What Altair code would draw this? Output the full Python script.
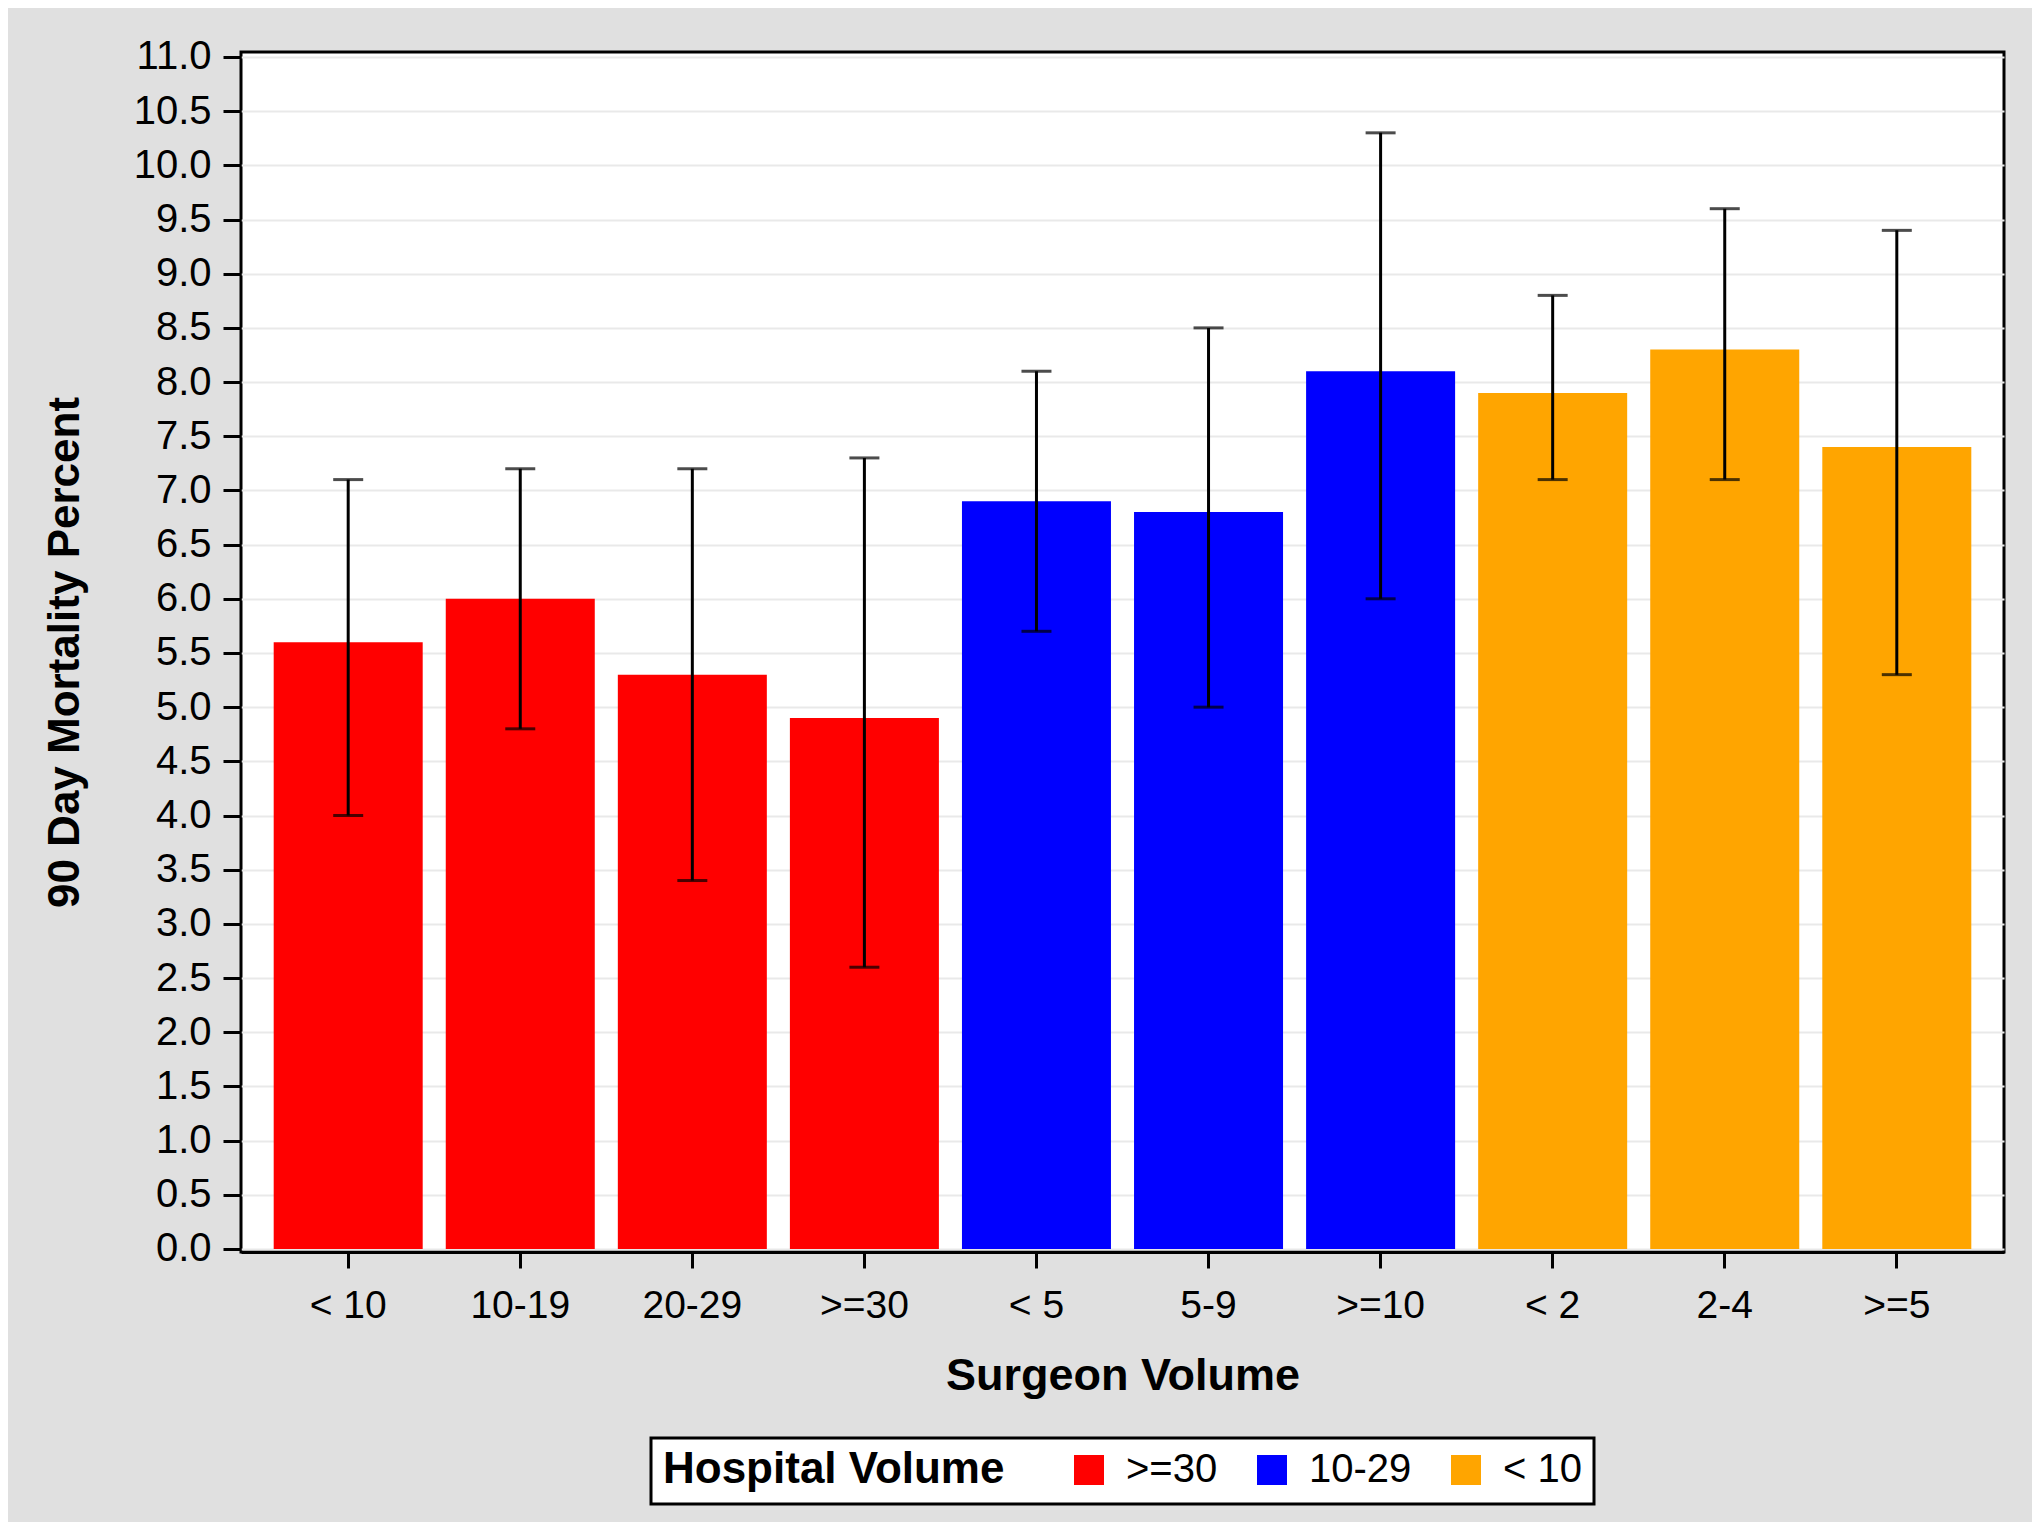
import altair as alt
import pandas as pd

surgeon = ["< 10", "10-19", "20-29", ">=30", "< 5", "5-9", ">=10", "< 2", "2-4", ">=5"]
hospital = [">=30", ">=30", ">=30", ">=30", "10-29", "10-29", "10-29", "< 10", "< 10", "< 10"]
mortality = [5.6, 6.0, 5.3, 4.9, 6.9, 6.8, 8.1, 7.9, 8.3, 7.4]
lower = [4.0, 4.8, 3.4, 2.6, 5.7, 5.0, 6.0, 7.1, 7.1, 5.3]
upper = [7.1, 7.2, 7.2, 7.3, 8.1, 8.5, 10.3, 8.8, 9.6, 9.4]
y_ticks = [0.0, 0.5, 1.0, 1.5, 2.0, 2.5, 3.0, 3.5, 4.0, 4.5, 5.0, 5.5, 6.0, 6.5,
           7.0, 7.5, 8.0, 8.5, 9.0, 9.5, 10.0, 10.5, 11.0]
hosp_order = [">=30", "10-29", "< 10"]
hosp_colors = ["#ff0000", "#0000ff", "#ffa500"]

df = pd.DataFrame({
    "Surgeon": surgeon,
    "Hospital": hospital,
    "Mortality": mortality,
    "Lower": lower,
    "Upper": upper,
})

FONT = "Liberation Sans"
YTITLE = "90 Day Mortality Percent"

x_enc = alt.X(
    "Surgeon:N",
    sort=surgeon,
    title="Surgeon Volume",
    scale=alt.Scale(paddingInner=0.134, paddingOuter=0.19),
    axis=alt.Axis(
        labelAngle=0, labelFontSize=39, labelColor="black", labelFont=FONT,
        tickSize=16, tickWidth=3, tickColor="black",
        domain=True, domainColor="black", domainWidth=3,
        grid=False, labelPadding=18,
        titleFontSize=45, titleFontWeight="bold", titleColor="black",
        titleFont=FONT, titlePadding=28,
    ),
)

y_scale = alt.Scale(domain=[-0.028, 11.046], nice=False, zero=False)
y_axis = alt.Axis(
    values=y_ticks, format=".1f", labelFontSize=40, labelColor="black",
    labelFont=FONT, tickSize=18, tickWidth=3, tickColor="black",
    domain=False, grid=True, gridColor="#e9e9e9", gridWidth=2,
    labelPadding=12, titleFontSize=44, titleFontWeight="bold",
    titleColor="black", titleFont=FONT, titlePadding=46,
)

base = alt.Chart(df)

bars = base.mark_bar().encode(
    x=x_enc,
    y=alt.Y("Mortality:Q", scale=y_scale, axis=y_axis, title=YTITLE),
    color=alt.Color(
        "Hospital:N",
        scale=alt.Scale(domain=hosp_order, range=hosp_colors),
        title="Hospital Volume",
        legend=alt.Legend(
            orient="none", legendX=410, legendY=1386,
            direction="horizontal", titleOrient="left",
            symbolType="square", symbolSize=900, symbolStrokeWidth=0,
            labelFontSize=40, labelFont=FONT, labelColor="black",
            titleFontSize=44, titleFont=FONT, titleFontWeight="bold",
            titleColor="black", titlePadding=64, labelOffset=17,
            titleLimit=1000, labelLimit=500,
            columnPadding=34, padding=12,
            strokeColor="black", fillColor="white",
        ),
    ),
)

rules = base.mark_rule(color="black", strokeWidth=3).encode(
    x=alt.X("Surgeon:N", sort=surgeon),
    y=alt.Y("Lower:Q", scale=y_scale, title=YTITLE),
    y2="Upper:Q",
)

cap_lo = base.mark_tick(color="black", size=30, thickness=3).encode(
    x=alt.X("Surgeon:N", sort=surgeon),
    y=alt.Y("Lower:Q", scale=y_scale, title=YTITLE),
)
cap_hi = base.mark_tick(color="black", size=30, thickness=3).encode(
    x=alt.X("Surgeon:N", sort=surgeon),
    y=alt.Y("Upper:Q", scale=y_scale, title=YTITLE),
)

chart = alt.layer(bars, rules, cap_lo, cap_hi).properties(
    width=1763,
    height=1200,
    padding={"left": 233, "top": 44, "right": 28, "bottom": 270},
    autosize=alt.AutoSizeParams(type="none"),
).configure(
    background="#e0e0e0",
    font=FONT,
).configure_view(
    fill="white", stroke="black", strokeWidth=3,
).configure_legend(
    strokeWidth=3,
)

chart.save("out.html", embed_options={"renderer": "svg", "actions": False})
